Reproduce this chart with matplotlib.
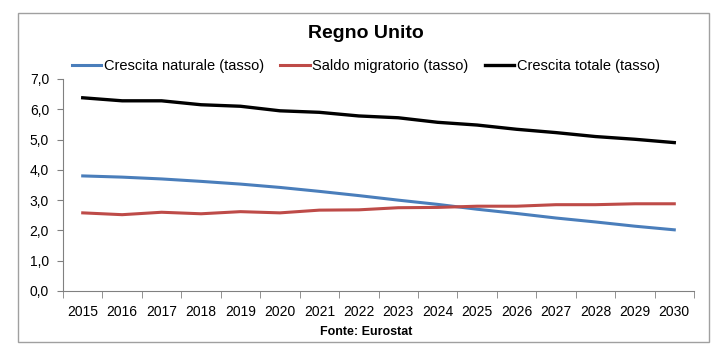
import matplotlib
matplotlib.use("Agg")
import matplotlib.pyplot as plt
from matplotlib.patches import Rectangle
import numpy as np

years = [str(y) for y in range(2015, 2031)]
crescita_naturale = [3.80, 3.76, 3.70, 3.62, 3.53, 3.42, 3.29, 3.15, 3.00, 2.86, 2.70, 2.56, 2.41, 2.28, 2.14, 2.02]
saldo_migratorio = [2.58, 2.52, 2.60, 2.55, 2.62, 2.58, 2.67, 2.68, 2.75, 2.76, 2.80, 2.80, 2.85, 2.85, 2.88, 2.88]
crescita_totale = [6.38, 6.28, 6.28, 6.15, 6.10, 5.95, 5.90, 5.78, 5.72, 5.57, 5.48, 5.34, 5.23, 5.10, 5.01, 4.90]
y_ticks = [0, 1, 2, 3, 4, 5, 6, 7]

plt.rcParams['font.family'] = ['Liberation Sans', 'DejaVu Sans']

fig = plt.figure(figsize=(7.25, 3.52), dpi=100)
fig.patches.append(Rectangle((18/725, 1-342/352), (709-18)/725, (342-13)/352,
                             transform=fig.transFigure, fill=False,
                             edgecolor='#a0a0a0', linewidth=1.0))
ax = fig.add_axes([63/725, 1-291/352, (694-63)/725, (291-79)/352])

x = np.arange(len(years))
ax.plot(x, crescita_naturale, color='#4a7ebb', lw=2.2, label='Crescita naturale (tasso)')
ax.plot(x, saldo_migratorio, color='#be4b48', lw=2.2, label='Saldo migratorio (tasso)')
ax.plot(x, crescita_totale, color='#000000', lw=2.4, label='Crescita totale (tasso)')

ax.set_xlim(-0.5, len(years) - 0.5)
ax.set_ylim(0, 7)
ax.set_yticks(y_ticks)
ax.set_yticklabels([f"{v:.1f}".replace('.', ',') for v in y_ticks], fontsize=10)
ax.set_xticks(x)
ax.set_xticklabels(years, fontsize=10)
ax.tick_params(axis='x', length=0, pad=10)
ax.set_xticks(np.arange(-0.5, len(years)), minor=True)
ax.tick_params(axis='x', which='minor', length=5, color='#808080', direction='out')
ax.tick_params(axis='y', length=4, color='#808080', direction='out', pad=6)
for s in ['top', 'right']:
    ax.spines[s].set_visible(False)
for s in ['left', 'bottom']:
    ax.spines[s].set_color('#808080')

fig.text(0.505, 1-33/352, 'Regno Unito', ha='center', va='center', fontsize=14, fontweight='bold')
leg = fig.legend(loc='center', bbox_to_anchor=(366/725, 1-66/352), ncol=3, frameon=False,
                 fontsize=10.5, handlelength=2.0, handletextpad=0.2, columnspacing=1.1)
fig.text(0.505, 1-332/352, 'Fonte: Eurostat', ha='center', va='center', fontsize=9, fontweight='bold')

fig.savefig('out.png', dpi=100)
